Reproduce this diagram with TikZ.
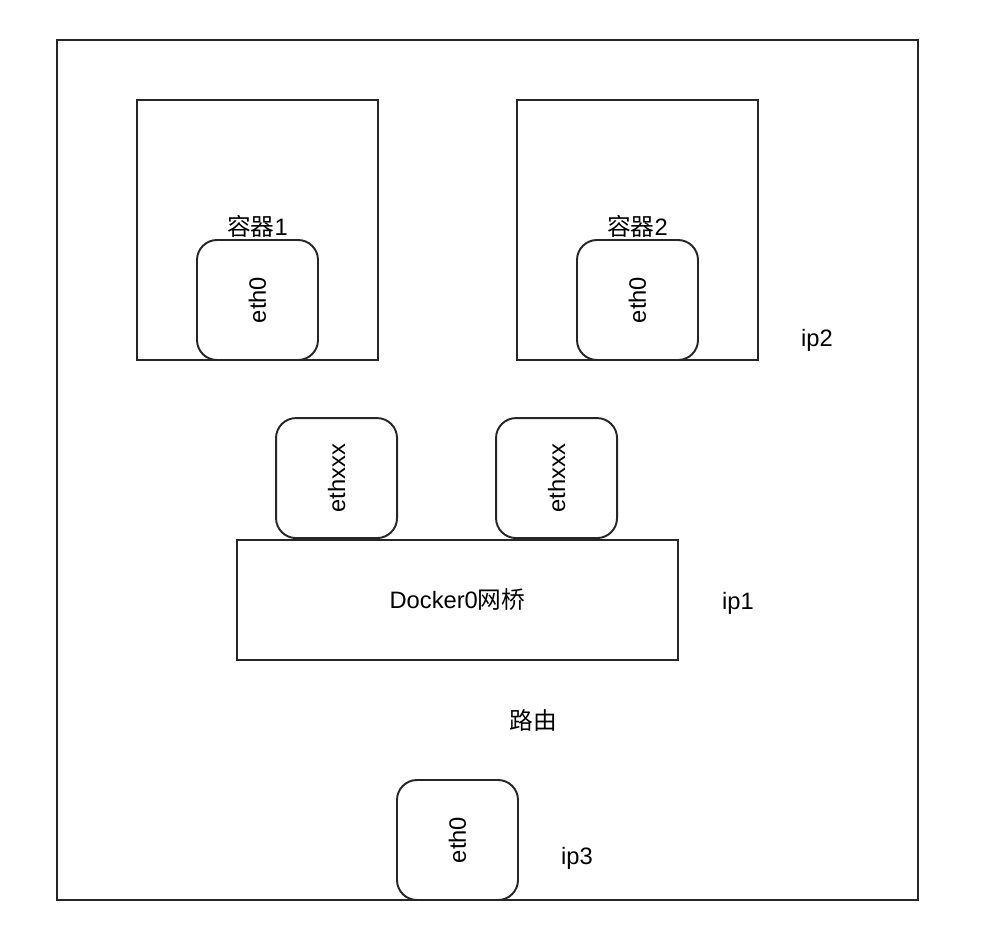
\documentclass[tikz,border=0pt]{standalone}
\usepackage{fontspec}
\setmainfont{Liberation Sans}
\newfontfamily\cjk{Noto Sans CJK SC}
\usetikzlibrary{positioning,calc}

\begin{document}
\begin{tikzpicture}[
  font=\fontsize{13.5}{16}\selectfont,
  frame/.style={draw=black!85,line width=1.1pt,rectangle,inner sep=0pt},
  host/.style={frame,minimum width=17.22cm,minimum height=17.2cm},
  container/.style={frame,minimum width=4.82cm,minimum height=5.2cm},
  port/.style={frame,rounded corners=0.4cm,minimum width=2.42cm,
    minimum height=2.4cm,text centered},
  bridge/.style={frame,minimum width=8.82cm,minimum height=2.4cm},
  tag/.style={inner sep=1pt}
]
  \useasboundingbox (0,0) rectangle (19.8,-18.76);
  \node[host] (host) at (9.75,-9.4) {};
  % containers
  \node[container] (box1) at (5.15,-4.6) {};
  \node[container] (box2) at (12.75,-4.6) {};
  \node[port,anchor=south] (eth0a) at (box1.south) {\rotatebox{90}{eth0}};
  \node[port,anchor=south] (eth0b) at (box2.south) {\rotatebox{90}{eth0}};
  \node[tag,above=0pt of eth0a] (name1) {{\cjk 容器}1};
  \node[tag,above=0pt of eth0b] (name2) {{\cjk 容器}2};
  % bridge
  \node[bridge] (docker) at (9.15,-12.0) {Docker0{\cjk 网桥}};
  \node[port,anchor=south] (vetha) at ($(docker.north west)+(2.01,0)$) {\rotatebox{90}{ethxxx}};
  \node[port,anchor=south] (vethb) at ($(docker.north west)+(6.41,0)$) {\rotatebox{90}{ethxxx}};
  \node[port,anchor=south] (eth0c) at (host.south -| docker) {\rotatebox{90}{eth0}};
  % addresses
  \node[tag] (ip2) at (16.34,-6.8) {ip2};
  \node[tag] (ip1) at (14.76,-12.06) {ip1};
  \node[tag] (route) at (10.66,-14.4) {\cjk 路由};
  \node[tag] (ip3) at (11.54,-17.16) {ip3};
\end{tikzpicture}
\end{document}
